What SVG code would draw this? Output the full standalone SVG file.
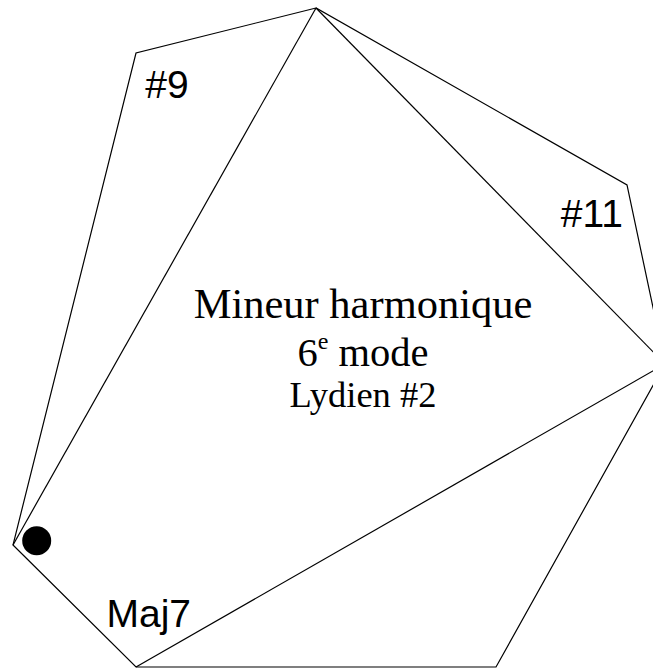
<svg xmlns="http://www.w3.org/2000/svg" width="653" height="671" viewBox="0 0 653 671">
<style>
.ln{fill:none;stroke:#000;stroke-width:1.2;stroke-linejoin:miter}
.lbl{font-family:"Liberation Sans",Arial,sans-serif;font-size:39px;fill:#000}
.ttl{font-family:"Liberation Serif","Times New Roman",serif;fill:#000;text-anchor:middle}
</style>
<rect width="653" height="671" fill="#fff"/>
<g id="connectors">
<polygon class="ln" points="316,8 136,53 13,545 136,667 496,667 665,364 627,185"/>
<line class="ln" x1="13" y1="545" x2="316" y2="8"/>
<line class="ln" x1="316" y1="8" x2="665" y2="364"/>
<line class="ln" x1="136" y1="667" x2="665" y2="364"/>
</g>
<g id="root-dot"><circle cx="36.7" cy="540.7" r="14.5" fill="#000"/></g>
<g id="n9"><text class="lbl" x="145.2" y="98">#9</text></g>
<g id="n11"><text class="lbl" x="560.8" y="226.5">#11</text></g>
<g id="nmaj7"><text class="lbl" x="106.5" y="626.5">Maj7</text></g>
<g id="title">
<text class="ttl" x="363" y="318" font-size="42.5">Mineur harmonique</text>
<text class="ttl" x="363" y="366" font-size="40.5">6<tspan font-size="24" dy="-17">e</tspan><tspan dy="17"> mode</tspan></text>
<text class="ttl" x="363" y="407" font-size="36.5">Lydien #2</text>
</g>
</svg>
